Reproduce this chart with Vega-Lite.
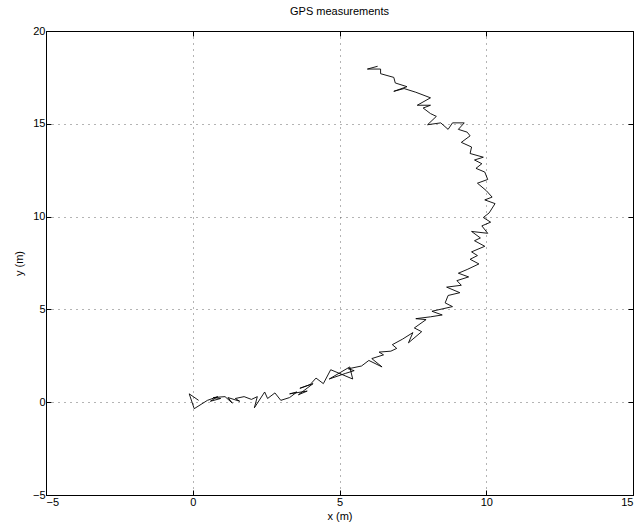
{
  "$schema": "https://vega.github.io/schema/vega-lite/v6.json",
  "width": 587,
  "height": 464,
  "autosize": "none",
  "padding": {"left": 46, "top": 31, "right": 7, "bottom": 34},
  "background": "white",
  "title": {"text": "GPS measurements", "fontSize": 11, "fontWeight": "normal", "font": "Liberation Sans", "color": "black", "offset": 8},
  "config": {
    "view": {"stroke": "black", "strokeWidth": 1},
    "axis": {"labelFont": "Liberation Sans", "titleFont": "Liberation Sans", "labelFontSize": 11, "titleFontSize": 11, "titleFontWeight": "normal", "labelColor": "black", "titleColor": "black", "domainColor": "black", "tickColor": "black", "gridColor": "#444", "gridDash": [1, 5], "gridOpacity": 0.8}
  },
  "data": {"values": [
    {"t": 1, "x": 0.2, "y": 0.1}, {"t": 2, "x": -0.12, "y": 0.45}, {"t": 3, "x": 0.05, "y": -0.35}, {"t": 4, "x": 0.5, "y": 0.1},
    {"t": 5, "x": 0.85, "y": 0.3}, {"t": 6, "x": 0.6, "y": 0.05}, {"t": 7, "x": 0.95, "y": 0.2}, {"t": 8, "x": 0.7, "y": 0.25},
    {"t": 9, "x": 1.1, "y": 0.3}, {"t": 10, "x": 1.35, "y": -0.05}, {"t": 11, "x": 1.2, "y": 0.25}, {"t": 12, "x": 1.6, "y": 0.05},
    {"t": 13, "x": 1.45, "y": 0.2}, {"t": 14, "x": 1.75, "y": 0.3}, {"t": 15, "x": 2.0, "y": 0.15}, {"t": 16, "x": 2.2, "y": 0.3},
    {"t": 17, "x": 2.1, "y": -0.3}, {"t": 18, "x": 2.45, "y": 0.55}, {"t": 19, "x": 2.55, "y": 0.2}, {"t": 20, "x": 2.8, "y": 0.5},
    {"t": 21, "x": 3.0, "y": 0.1}, {"t": 22, "x": 3.3, "y": 0.25}, {"t": 23, "x": 3.55, "y": 0.55}, {"t": 24, "x": 3.3, "y": 0.45},
    {"t": 25, "x": 3.9, "y": 0.6}, {"t": 26, "x": 3.6, "y": 0.4}, {"t": 27, "x": 4.1, "y": 1.0}, {"t": 28, "x": 3.65, "y": 0.75},
    {"t": 29, "x": 4.0, "y": 0.95}, {"t": 30, "x": 4.2, "y": 1.3}, {"t": 31, "x": 4.45, "y": 1.0}, {"t": 32, "x": 4.7, "y": 1.75},
    {"t": 33, "x": 5.45, "y": 1.25}, {"t": 34, "x": 5.35, "y": 1.9}, {"t": 35, "x": 4.65, "y": 1.25}, {"t": 36, "x": 5.2, "y": 1.55},
    {"t": 37, "x": 5.5, "y": 1.7}, {"t": 38, "x": 5.3, "y": 1.8}, {"t": 39, "x": 5.75, "y": 1.95}, {"t": 40, "x": 6.0, "y": 2.25},
    {"t": 41, "x": 6.45, "y": 1.9}, {"t": 42, "x": 6.1, "y": 2.35}, {"t": 43, "x": 6.5, "y": 2.55}, {"t": 44, "x": 6.35, "y": 2.7},
    {"t": 45, "x": 6.75, "y": 2.75}, {"t": 46, "x": 6.95, "y": 2.9}, {"t": 47, "x": 6.8, "y": 3.1}, {"t": 48, "x": 7.15, "y": 3.4},
    {"t": 49, "x": 7.5, "y": 3.75}, {"t": 50, "x": 7.35, "y": 3.2}, {"t": 51, "x": 7.8, "y": 3.8}, {"t": 52, "x": 7.55, "y": 4.0},
    {"t": 53, "x": 7.95, "y": 4.45}, {"t": 54, "x": 7.6, "y": 4.5}, {"t": 55, "x": 8.1, "y": 4.6}, {"t": 56, "x": 8.5, "y": 4.7},
    {"t": 57, "x": 8.15, "y": 4.9}, {"t": 58, "x": 8.85, "y": 5.15}, {"t": 59, "x": 8.6, "y": 5.35}, {"t": 60, "x": 8.7, "y": 5.75},
    {"t": 61, "x": 9.1, "y": 5.9}, {"t": 62, "x": 8.65, "y": 6.2}, {"t": 63, "x": 9.15, "y": 6.3}, {"t": 64, "x": 9.0, "y": 6.55},
    {"t": 65, "x": 9.4, "y": 6.75}, {"t": 66, "x": 9.05, "y": 6.95}, {"t": 67, "x": 9.35, "y": 7.15}, {"t": 68, "x": 9.75, "y": 7.45},
    {"t": 69, "x": 9.45, "y": 7.7}, {"t": 70, "x": 9.7, "y": 7.9}, {"t": 71, "x": 9.5, "y": 8.1}, {"t": 72, "x": 9.95, "y": 8.4},
    {"t": 73, "x": 9.6, "y": 8.7}, {"t": 74, "x": 9.8, "y": 8.85}, {"t": 75, "x": 9.5, "y": 9.2}, {"t": 76, "x": 10.05, "y": 9.1},
    {"t": 77, "x": 9.85, "y": 9.5}, {"t": 78, "x": 10.15, "y": 9.7}, {"t": 79, "x": 9.9, "y": 9.95}, {"t": 80, "x": 10.1, "y": 10.2},
    {"t": 81, "x": 10.3, "y": 10.7}, {"t": 82, "x": 9.95, "y": 10.9}, {"t": 83, "x": 10.2, "y": 11.05}, {"t": 84, "x": 10.0, "y": 11.4},
    {"t": 85, "x": 9.7, "y": 11.8}, {"t": 86, "x": 10.05, "y": 12.0}, {"t": 87, "x": 9.95, "y": 12.4}, {"t": 88, "x": 9.65, "y": 12.6},
    {"t": 89, "x": 9.85, "y": 12.85}, {"t": 90, "x": 9.6, "y": 13.05}, {"t": 91, "x": 9.9, "y": 13.2}, {"t": 92, "x": 9.45, "y": 13.4},
    {"t": 93, "x": 9.5, "y": 13.75}, {"t": 94, "x": 9.15, "y": 14.0}, {"t": 95, "x": 9.45, "y": 14.35}, {"t": 96, "x": 9.35, "y": 14.55},
    {"t": 97, "x": 9.05, "y": 14.7}, {"t": 98, "x": 9.25, "y": 15.05}, {"t": 99, "x": 8.85, "y": 15.05}, {"t": 100, "x": 8.7, "y": 14.7},
    {"t": 101, "x": 8.45, "y": 15.05}, {"t": 102, "x": 8.0, "y": 14.95}, {"t": 103, "x": 8.3, "y": 15.4}, {"t": 104, "x": 8.1, "y": 15.55},
    {"t": 105, "x": 7.85, "y": 15.85}, {"t": 106, "x": 8.1, "y": 16.0}, {"t": 107, "x": 7.65, "y": 16.0}, {"t": 108, "x": 8.1, "y": 16.4},
    {"t": 109, "x": 7.6, "y": 16.7}, {"t": 110, "x": 7.2, "y": 16.9}, {"t": 111, "x": 6.85, "y": 16.75}, {"t": 112, "x": 7.3, "y": 17.0},
    {"t": 113, "x": 6.9, "y": 17.2}, {"t": 114, "x": 6.85, "y": 17.5}, {"t": 115, "x": 6.4, "y": 17.7}, {"t": 116, "x": 6.4, "y": 17.95},
    {"t": 117, "x": 5.95, "y": 17.95}, {"t": 118, "x": 6.3, "y": 18.1}
  ]},
  "layer": [
    {
      "mark": {"type": "line", "color": "black", "strokeWidth": 0.9, "clip": true},
      "encoding": {
        "x": {"field": "x", "type": "quantitative", "scale": {"domain": [-5, 15], "nice": false, "zero": false},
              "axis": {"orient": "bottom", "title": "x (m)", "values": [-5, 0, 5, 10, 15], "tickSize": -5, "labelPadding": 6, "titlePadding": 3, "grid": true}},
        "y": {"field": "y", "type": "quantitative", "scale": {"domain": [-5, 20], "nice": false, "zero": false},
              "axis": {"orient": "left", "title": "y (m)", "values": [-5, 0, 5, 10, 15, 20], "tickSize": -5, "labelPadding": 6, "titlePadding": 8, "grid": true}},
        "order": {"field": "t", "type": "quantitative"}
      }
    },
    {
      "mark": {"type": "point", "opacity": 0},
      "encoding": {
        "x": {"field": "x", "type": "quantitative", "scale": {"domain": [-5, 15], "nice": false, "zero": false},
              "axis": {"orient": "top", "title": null, "labels": false, "values": [-5, 0, 5, 10, 15], "tickSize": -5, "grid": false}},
        "y": {"field": "y", "type": "quantitative", "scale": {"domain": [-5, 20], "nice": false, "zero": false},
              "axis": {"orient": "right", "title": null, "labels": false, "values": [-5, 0, 5, 10, 15, 20], "tickSize": -5, "grid": false}}
      }
    }
  ],
  "resolve": {"axis": {"x": "independent", "y": "independent"}}
}
